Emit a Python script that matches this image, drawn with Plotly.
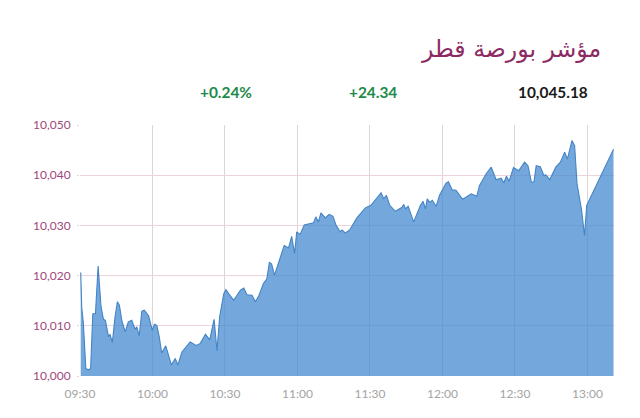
import plotly.graph_objects as go

minutes = [0.3,0.7,1.4,2.4,3.5,4.4,5.3,6.4,7.5,8.7,9.7,10.5,11.8,12.4,13.4,14.5,15.5,16.3,17.3,18.7,20,21.4,22.8,23.5,24.5,25.6,26.6,28.4,29.9,30.8,31.8,32.8,33.8,35.5,37.8,39.4,40.5,42.2,45.6,48.1,49.8,51.9,53.7,55.5,56.7,57.8,59.5,60.4,61.5,63.6,66.4,67.8,69.1,71.2,72.6,74.1,75.9,77.3,78.4,79.3,80.5,82.1,84.5,86.3,87.6,88.8,89.7,91.1,92.8,96.6,97.6,98.7,99.7,101.5,103.1,104.7,106,107.7,108.4,109.8,111.6,114.6,118.1,120.4,122.2,124.6,125.7,126.8,128.2,130.5,133.3,134,134.7,135.8,138.1,140.9,142,143,143.7,144.8,145.8,147.4,148.8,150.1,151.5,152.5,154,155.6,158.4,161.9,164.2,165.3,168.1,170.2,172.2,174.3,175.4,176.5,177.6,179.4,181.6,184,185.4,186.8,187.9,188.8,190.5,192,192.7,194.4,196.9,198.8,200.6,201.7,203.6,204.7,205.7,207.5,208.8,209.7,220.8]
offsets = [20.6,13.8,10.5,1.5,1.2,1.5,12.4,12.4,21.9,13.8,11.3,11.1,7.8,8.3,6.7,11.8,14.8,14.1,11.1,8.8,10.8,11.1,9.3,9.8,8.0,12.9,13.1,12,9.1,10.3,10.1,7.8,4.6,6.0,2.2,3.5,2.2,4.8,6.8,6.1,6.5,8.3,7.2,11.3,5.0,11.8,16.4,17.2,16.4,15.1,17.1,17.5,16.2,16.1,14.8,16.1,18.4,19.3,22.7,22.3,20.1,22.4,26,25.5,27.8,24.4,28.7,28.2,30.1,30.5,31.7,30.7,32.5,31.5,32.2,31.8,30,28.7,29.1,28.5,29.1,31.5,33.5,34,35,36.5,35.3,36,34,32.8,33.6,34.2,33.3,33.8,30.7,34,34.8,33.3,35.3,34.6,35,33.8,36,37.3,38.4,38.7,37.1,37,35.2,36.3,35.8,37.9,40.3,41.6,39.1,39.4,38.5,39.8,38.8,41.5,40.9,42.6,41.9,38.6,38.7,41.9,41.7,39.9,40.1,39.1,41.6,42.6,44.6,43.2,46.9,45.9,38.3,33.3,28,34,45.18]
index_values = [10000 + v for v in offsets]

x_tick_vals = [0,30,60,90,120,150,180,210]
x_tick_text = ["09:30","10:00","10:30","11:00","11:30","12:00","12:30","13:00"]
y_tick_vals = [10000,10010,10020,10030,10040,10050]
y_tick_text = ["10,000","10,010","10,020","10,030","10,040","10,050"]

title_text = "مؤشر بورصة قطر"
pct_text = "+0.24%"
chg_text = "+24.34"
last_text = "10,045.18"

fig = go.Figure(go.Scatter(
    x=minutes, y=index_values, mode="lines",
    line=dict(color="#4484c4", width=1.1),
    fill="tozeroy", fillcolor="rgba(62,134,208,0.72)",
    hoverinfo="skip",
))
fig.update_layout(
    width=640, height=418,
    margin=dict(l=80, r=26, t=125, b=42),
    plot_bgcolor="white", paper_bgcolor="white",
    showlegend=False,
    font=dict(family="Lato, sans-serif"),
    xaxis=dict(range=[0, 221], tickmode="array", tickvals=x_tick_vals, ticktext=x_tick_text,
               showgrid=True, gridcolor="#ddd3da", gridwidth=1, zeroline=False, showline=False,
               ticks="", ticklabelstandoff=9, tickfont=dict(size=12, color="#a3a3a3")),
    yaxis=dict(range=[10000, 10050], tickmode="array", tickvals=y_tick_vals, ticktext=y_tick_text,
               showgrid=True, gridcolor="#edd3de", gridwidth=1, zeroline=False, showline=False,
               ticks="outside", ticklen=2, tickcolor="#edd3de", ticklabelstandoff=4,
               tickfont=dict(size=12, color="#a0467c")),
    annotations=[
        dict(text=title_text, xref="paper", yref="paper", x=(602.5-80)/534, y=(376-49)/251,
             xanchor="right", yanchor="middle", showarrow=False,
             font=dict(family="DejaVu Sans", size=23.6, color="#8c2b63")),
        dict(text="<b>%s</b>" % pct_text, xref="paper", yref="paper", x=(225.5-80)/534, y=(376-92)/251,
             xanchor="center", yanchor="middle", showarrow=False, font=dict(size=15.4, color="#1e8a4a")),
        dict(text="<b>%s</b>" % chg_text, xref="paper", yref="paper", x=(372.5-80)/534, y=(376-92)/251,
             xanchor="center", yanchor="middle", showarrow=False, font=dict(size=15.4, color="#1e8a4a")),
        dict(text="<b>%s</b>" % last_text, xref="paper", yref="paper", x=(553-80)/534, y=(376-92)/251,
             xanchor="center", yanchor="middle", showarrow=False, font=dict(size=15.4, color="#1a1a1a")),
    ],
)
fig.write_html("out.html", config={"displayModeBar": False}, post_script="document.body.style.margin='0';")
